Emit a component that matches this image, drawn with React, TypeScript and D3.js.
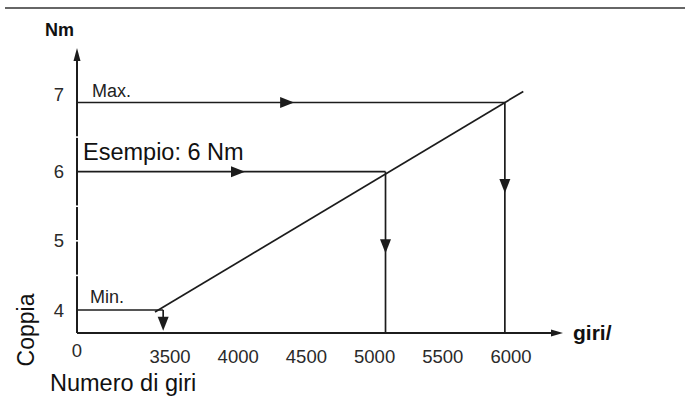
import { useEffect, useRef } from "react";
import * as d3 from "d3";

// Torque / rpm diagram (coppia vs numero di giri)
const torqueTicks = [4, 5, 6, 7];
const torqueNotches = [4.5, 5, 5.5, 6.5];
const rpmTicks = [3500, 4000, 4500, 5000, 5500, 6000];

// characteristic line (start / end)
const charRpm = [3390, 6090];
const charTorque = [3.97, 7.16];

// guide lines: Max. and example
const guideLabels = ["Max.", "Esempio: 6 Nm"];
const guideTorque = [7, 6];
const guideRpm = [5955, 5080];
const guideArrowRpm = [4410, 4050];
const guideDropTorque = [5.69, 4.82];

// Min. line
const minTorque = 4;
const minRpm = 3450;
const minDropTorque = 3.7;

const W = 685;
const H = 409;
const INK = "#1c1c1c";
const FONT = "'Liberation Sans', Arial, sans-serif";

export default function App() {
  const svgRef = useRef<SVGSVGElement | null>(null);

  useEffect(() => {
    const svg = svgRef.current;
    if (!svg) return;
    svg.innerHTML = "";
    const root = d3.select(svg).attr("width", W).attr("height", H);

    const x = d3.scaleLinear().domain([3500, 6000]).range([170, 511]);
    const y = d3.scaleLinear().domain([4, 7]).range([310, 102.5]);

    const originX = 77;
    const originY = 333;
    const yTop = 48;
    const xEnd = 563;

    // triangle head: tip at (tx,ty), dir "r" | "d" | "u"
    const head = (tx: number, ty: number, dir: string, len: number, hw: number) => {
      const p = d3.path();
      if (dir === "r") {
        p.moveTo(tx, ty);
        p.lineTo(tx - len, ty - hw);
        p.lineTo(tx - len, ty + hw);
      } else if (dir === "d") {
        p.moveTo(tx, ty);
        p.lineTo(tx - hw, ty - len);
        p.lineTo(tx + hw, ty - len);
      } else {
        p.moveTo(tx, ty);
        p.lineTo(tx - hw, ty + len);
        p.lineTo(tx + hw, ty + len);
      }
      p.closePath();
      root.append("path").attr("d", p.toString()).attr("fill", INK);
    };

    const seg = (x1: number, y1: number, x2: number, y2: number, w = 1.7) =>
      root
        .append("line")
        .attr("x1", x1).attr("y1", y1)
        .attr("x2", x2).attr("y2", y2)
        .attr("stroke", INK)
        .attr("stroke-width", w);

    // top rule
    root.append("line")
      .attr("x1", 5).attr("x2", W).attr("y1", 8).attr("y2", 8)
      .attr("stroke", "#333").attr("stroke-width", 1.6);

    // axes
    seg(originX, originY, originX, yTop + 10, 2);
    head(originX, yTop, "u", 13, 3.5);
    seg(originX, originY, xEnd - 8, originY, 2);
    head(xEnd, originY, "r", 12, 3.5);

    // small white notches on the y axis
    torqueNotches.forEach((t) => {
      root.append("line")
        .attr("x1", originX - 2).attr("x2", originX + 2)
        .attr("y1", y(t)).attr("y2", y(t))
        .attr("stroke", "#fff").attr("stroke-width", 1.6);
    });

    // characteristic line
    const line = d3.line<number>()
      .x((_, i) => x(charRpm[i]))
      .y((t) => y(t));
    root.append("path")
      .attr("d", line(charTorque))
      .attr("fill", "none")
      .attr("stroke", INK)
      .attr("stroke-width", 1.7);

    // guide lines
    guideTorque.forEach((t, i) => {
      seg(originX, y(t), x(guideRpm[i]), y(t));
      head(x(guideArrowRpm[i]), y(t), "r", 14, 5.5);
      seg(x(guideRpm[i]), y(t), x(guideRpm[i]), originY);
      head(x(guideRpm[i]), y(guideDropTorque[i]), "d", 14, 5.5);
    });

    // min line
    seg(originX, y(minTorque), x(minRpm), y(minTorque));
    seg(x(minRpm), y(minTorque), x(minRpm), y(minDropTorque) - 6);
    head(x(minRpm), y(minDropTorque), "d", 14, 5.5);

    // guide labels
    root.append("text")
      .attr("x", 92).attr("y", y(guideTorque[0]) - 6)
      .attr("font-size", 18).attr("fill", "#222")
      .text(guideLabels[0]);
    root.append("text")
      .attr("x", 83).attr("y", y(guideTorque[1]) - 12)
      .attr("font-size", 23.5).attr("fill", "#111")
      .text(guideLabels[1]);
    root.append("text")
      .attr("x", 90).attr("y", y(minTorque) - 7)
      .attr("font-size", 18).attr("fill", "#222")
      .text("Min.");

    // y tick labels
    torqueTicks.forEach((t) => {
      root.append("text")
        .attr("x", 59).attr("y", y(t) + (t === 7 ? -8 : 0))
        .attr("dy", "0.36em")
        .attr("text-anchor", "middle")
        .attr("font-size", 18.5).attr("fill", "#2a2a2a")
        .text(t);
    });

    // x tick labels
    root.append("text")
      .attr("x", originX).attr("y", 357)
      .attr("text-anchor", "middle")
      .attr("font-size", 18.5).attr("fill", "#2a2a2a")
      .text("0");
    rpmTicks.forEach((r) => {
      root.append("text")
        .attr("x", x(r)).attr("y", 363)
        .attr("text-anchor", "middle")
        .attr("font-size", 18.5).attr("fill", "#2a2a2a")
        .text(r);
    });

    // axis titles
    root.append("text")
      .attr("x", 45).attr("y", 36)
      .attr("font-size", 18).attr("font-weight", "bold").attr("fill", "#111")
      .text("Nm");
    root.append("text")
      .attr("x", 573).attr("y", 340)
      .attr("font-size", 21).attr("font-weight", "bold").attr("fill", "#111")
      .text("giri/");
    root.append("text")
      .attr("transform", "translate(34,330) rotate(-90)")
      .attr("text-anchor", "middle")
      .attr("font-size", 23).attr("fill", "#111")
      .text("Coppia");
    root.append("text")
      .attr("x", 50).attr("y", 391)
      .attr("font-size", 23.5).attr("fill", "#111")
      .text("Numero di giri");
  }, []);

  return (
    <svg
      ref={svgRef}
      style={{ position: "absolute", left: 0, top: 0, fontFamily: FONT, background: "#fff" }}
    />
  );
}
